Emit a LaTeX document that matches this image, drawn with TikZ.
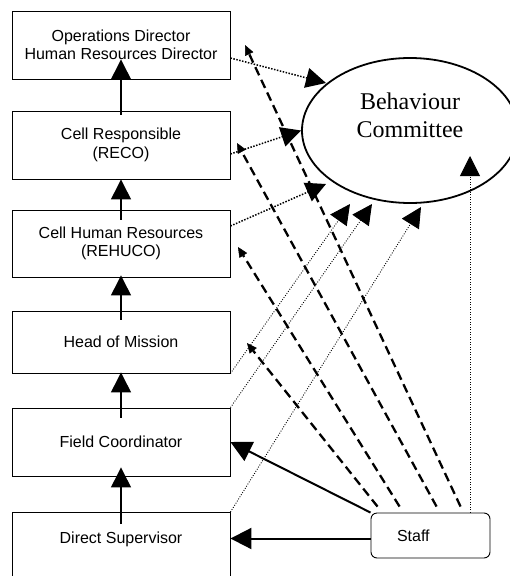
\documentclass[tikz,border=0pt]{standalone}
\usepackage{fontspec}
\setmainfont{Liberation Serif}
\setsansfont{Liberation Sans}
\usetikzlibrary{arrows.meta,shapes.geometric,calc}
\begin{document}
\begin{tikzpicture}[x=1pt,y=-1pt,
  box/.style={draw,line width=0.9pt,minimum width=218pt,minimum height=68pt,inner sep=0pt,
    font=\sffamily\fontsize{16}{18.4}\selectfont,align=center},
  staffbox/.style={draw,line width=0.9pt,rounded corners=6pt,minimum height=45pt,text width=67pt,
    inner xsep=26pt,inner ysep=0pt,align=left,font=\sffamily\fontsize{16}{18.4}\selectfont},
  committee/.style={draw,ellipse,line width=1.8pt,minimum width=216pt,minimum height=145pt,inner sep=0pt,
    align=center,font=\fontsize{24}{28}\selectfont,text depth=31pt},
  uparrow/.style={line width=1.3pt,-{Triangle[length=20pt,width=20pt]}},
  staffarrow/.style={line width=2pt,-{Triangle[length=21pt,width=21pt]}},
  dotthick/.style={line width=1.5pt,dash pattern=on 1.5pt off 1.5pt,-{Triangle[length=20pt,width=20pt]}},
  dotthin/.style={line width=0.9pt,dash pattern=on 0.9pt off 1.6pt,-{Triangle[length=20pt,width=20pt]}},
  dasharrow/.style={line width=2.3pt,dash pattern=on 9pt off 5pt,-{Triangle[length=10pt,width=9pt,line width=0.5pt]}}
]
\clip (0,0) rectangle (510,576);
% boxes
\node[box] (od) at (121,45) {Operations Director\\Human Resources Director};
\node[box] (cr) at (121,145) {Cell Responsible\\(RECO)};
\node[box,minimum height=67pt] (chr) at (121,243.5) {Cell Human Resources\\(REHUCO)};
\node[box,minimum height=62pt] (hom) at (121,342) {Head of Mission};
\node[box] (fc) at (121,442) {Field Coordinator};
\node[box,minimum height=0pt,anchor=north,text height=31pt,text depth=37pt] (ds) at (121,512) {Direct Supervisor};
\node[staffbox] (staff) at (430.5,535.5) {Staff};
\node[committee] (bc) at (410,130.5) {Behaviour\\Committee};
% free ends
\coordinate (t1) at (326,83);
\coordinate (t3) at (326,184);
\coordinate (t4) at (350,204);
\coordinate (t5) at (372,204);
\coordinate (t6) at (421,207);
\coordinate (t7) at (470,156);
\coordinate (d1) at (247,343);
\coordinate (d2) at (238,247);
\coordinate (d3) at (237,143);
\coordinate (d4) at (245,45);
% hierarchy arrows
\draw[uparrow] ([yshift=-4pt]cr.north) -- ([yshift=20pt]od.south);
\draw[uparrow] ([yshift=-10pt]chr.north) -- (cr.south);
\draw[uparrow] ([yshift=-9pt]hom.north) -- ([yshift=2pt]chr.south);
\draw[uparrow] ([yshift=-10pt]fc.north) -- ([yshift=1pt]hom.south);
\draw[uparrow] ([yshift=-12pt]ds.north) -- ([yshift=9pt]fc.south);
% staff solid arrows
\draw[staffarrow] (staff.north west) -- (fc.east);
\draw[staffarrow] ([yshift=-3pt]staff.west) -- ([yshift=-3pt]staff.west -| ds.east);
% dotted arrows to committee
\draw[dotthick] ([yshift=-13pt]od.east) -- (t1);
\draw[dotthick] ([yshift=-9pt]cr.east) -- (bc.west);
\draw[dotthick] ([yshift=17.5pt]chr.east) -- (t3);
\draw[dotthin] (hom.south east) -- (t4);
\draw[dotthin] (fc.north east) -- (t5);
\draw[dotthin] (ds.north east) -- (t6);
\draw[dotthin] ([xshift=39.5pt]staff.north) -- (t7);
% dashed arrows from staff
\draw[dasharrow] ([xshift=7pt,yshift=6pt]staff.north west) -- (d1);
\draw[dasharrow] ([xshift=29pt,yshift=6pt]staff.north west) -- (d2);
\draw[dasharrow] ([xshift=66pt,yshift=6pt]staff.north west) -- (d3);
\draw[dasharrow] ([xshift=90pt,yshift=6pt]staff.north west) -- (d4);
\end{tikzpicture}
\end{document}
